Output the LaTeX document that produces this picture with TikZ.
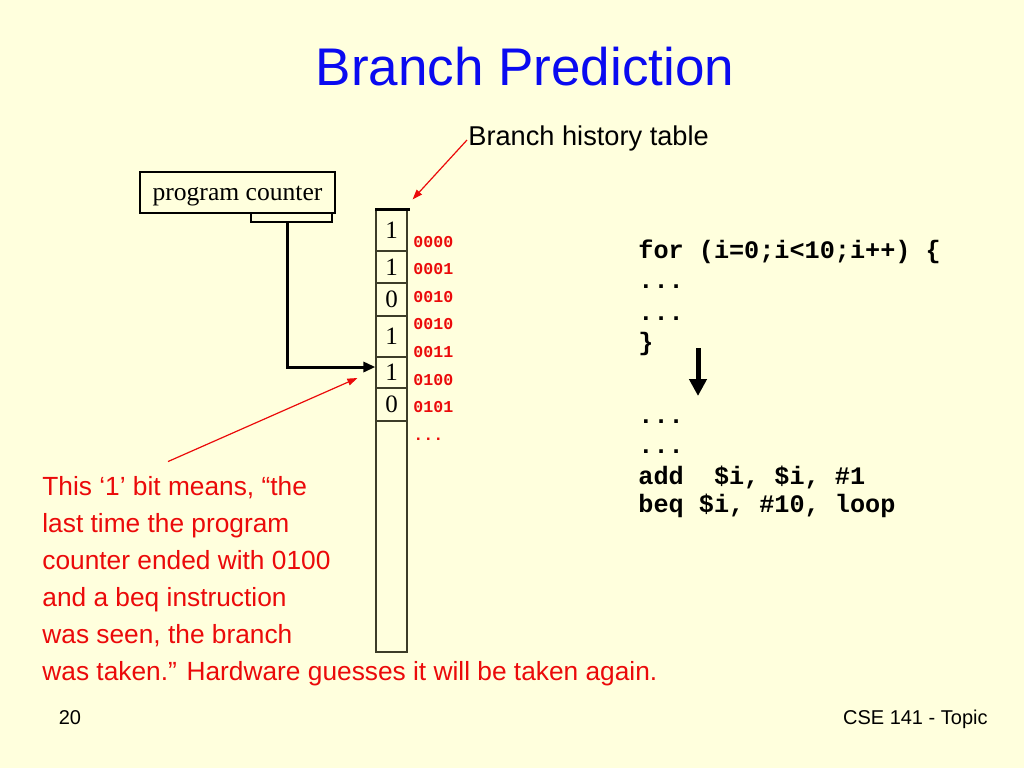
\documentclass[tikz,border=0pt]{standalone}
\usepackage{fontspec}
\setmainfont{Liberation Serif}
\newfontfamily\comicfont{Liberation Sans}
\newfontfamily\codefont{Liberation Mono}
\usetikzlibrary{arrows.meta,positioning}
\definecolor{slidebg}{RGB}{255,255,221}
\definecolor{titleblue}{RGB}{10,10,240}
\definecolor{notered}{RGB}{235,10,10}
\definecolor{cellline}{RGB}{60,60,40}
\tikzset{
  cell/.style={draw=cellline, line width=0.6pt, minimum width=15.5pt, inner sep=0pt,
    font=\fontsize{12.5}{14}\selectfont},
  addr/.style={anchor=base west, inner sep=0pt, text=notered,
    font=\codefont\bfseries\fontsize{8.3}{9}\selectfont},
  code/.style={anchor=base west, inner sep=0pt, font=\codefont\bfseries\fontsize{12.6}{14}\selectfont},
  note/.style={anchor=base west, inner sep=0pt, text=notered, font=\comicfont\fontsize{13.15}{15}\selectfont},
  pointer/.style={-{Triangle[length=5pt,width=3.5pt]}, draw=notered, line width=0.6pt},
  fetch/.style={-{Triangle[length=6pt,width=5pt]}, line width=1.5pt},
  flow/.style={-{Triangle[length=8.5pt,width=8.5pt]}, line width=2.5pt},
}

\begin{document}
\begin{tikzpicture}[x=0.5pt,y=-0.5pt]
  \useasboundingbox (0,0) rectangle (1024,768);
  \fill[slidebg] (0,0) rectangle (1024,768);
  \node[anchor=base, inner sep=0pt, text=titleblue, font=\comicfont\fontsize{26.5}{30}\selectfont]
    (title) at (525,85) {Branch Prediction};
  \node[anchor=base west, inner sep=0pt, font=\comicfont\fontsize{13.6}{16}\selectfont]
    (bht) at (468,145) {Branch history table};
  % program counter with the bits that index the table
  \node[draw, line width=0.6pt, minimum width=97.5pt, minimum height=20.5pt, inner sep=0pt,
    text height=11pt, text depth=2.6pt, font=\fontsize{12.8}{14}\selectfont] (pc) at (237.5,192.5) {program counter};
  \node[draw, line width=0.6pt, minimum width=40.5pt, minimum height=4.5pt, inner sep=0pt]
    (pcbits) at (291.5,217.5) {};
  % history table
  \foreach \i/\ys/\ye/\val in {0/210/251/1,1/251/283/1,2/283/316/0,3/316/357/1,4/357/388/1,5/388/421/0,6/421/652/} {
    \pgfmathparse{(\ye-\ys)/2}
    \let\cellh\pgfmathresult
    \node[cell, minimum height=\cellh pt] (B\i) at (391.5,{(\ys+\ye)/2}) {\val};
  }
  \draw[line width=1.3pt] (B0.north west) -- ([xshift=1pt]B0.north east);
  \foreach \i/\txt in {0/0000,1/0001,2/0010,3/0010,4/0011,5/0100,6/0101,7/{...}} {
    \pgfmathparse{247+27.6*\i}
    \let\ya\pgfmathresult
    \node[addr] (A\i) at (413,\ya) {\txt};
  }
  \draw[fetch] ([xshift=-2.25pt]pcbits.south) |- ([yshift=2.75pt]B4.west);
  % loop code
  \foreach \i/\y/\txt in {0/258/{for (i=0;i<10;i++) \{},1/288/{...},2/320/{...},3/350/{\}},
      4/423/{...},5/453/{...},6/484/{add\ \ \$i, \$i, \#1},7/512/{beq \$i, \#10, loop}}
    \node[code] (C\i) at (638,\y) {\txt};
  \coordinate (flowtop) at (698,348);
  \coordinate (flowend) at (698,396);
  \draw[flow] (flowtop) -- (flowend);
  % note
  \foreach \i/\y/\txt in {0/495/{This ‘1’ bit means, “the},1/532/{last time the program},
      2/569/{counter ended with 0100},3/606/{and a beq instruction},
      4/643/{was seen, the branch},5/680/{was taken.” Hardware guesses it will be taken again.}}
    \node[note] (N\i) at (42,\y) {\txt};
  \draw[pointer] ([shift={(-0.5pt,2.5pt)}]bht.base west) -- ([shift={(2.5pt,5pt)}]B0.north east);
  \draw[pointer] ([shift={(63pt,7pt)}]N0.north west) -- ([shift={(-9pt,-2.75pt)}]B4.west);
  % footer
  \node[anchor=base, inner sep=0pt, font=\comicfont\fontsize{10}{12}\selectfont] (page) at (70,724) {20};
  \node[anchor=base east, inner sep=0pt, font=\comicfont\fontsize{10}{12}\selectfont] (course) at (988,724) {CSE 141 - Topic};
\end{tikzpicture}
\end{document}
